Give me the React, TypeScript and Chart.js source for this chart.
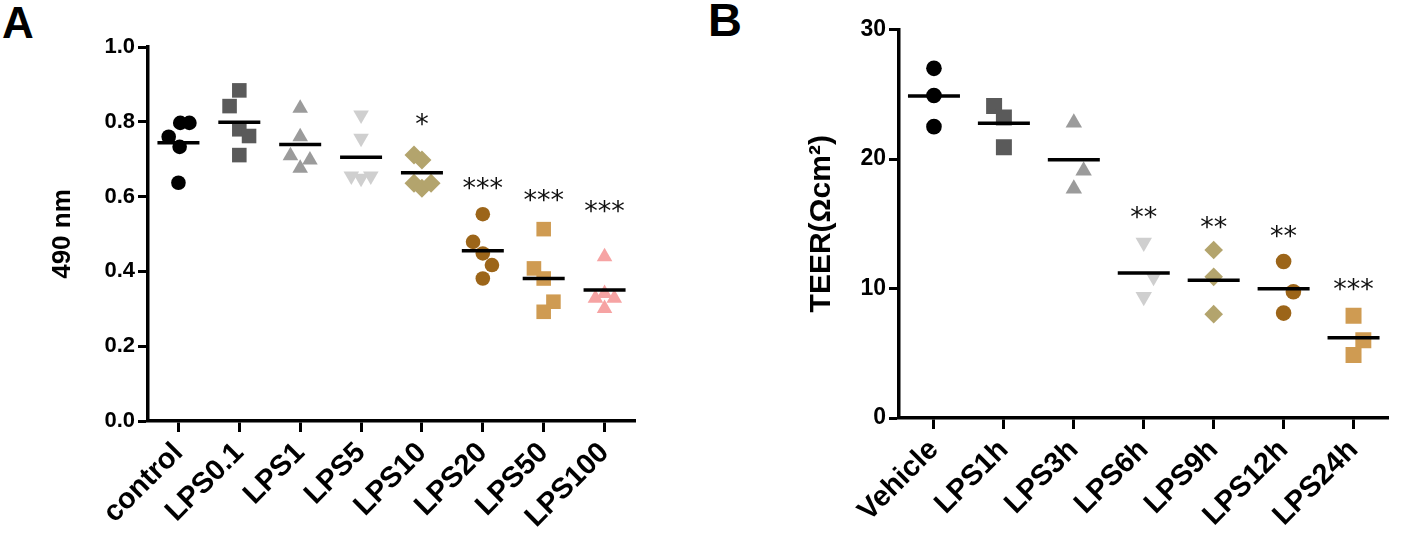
import React, { useEffect, useRef } from "react";
import { Chart, registerables } from "chart.js";
Chart.register(...registerables);

// ---------- Panel A data ----------
const catsA = ["control", "LPS0.1", "LPS1", "LPS5", "LPS10", "LPS20", "LPS50", "LPS100"];
const valsA = [
  [0.760, 0.797, 0.797, 0.733, 0.637],
  [0.884, 0.842, 0.780, 0.762, 0.711],
  [0.836, 0.760, 0.709, 0.698, 0.676],
  [0.818, 0.756, 0.655, 0.649, 0.655],
  [0.711, 0.698, 0.636, 0.622, 0.636],
  [0.553, 0.479, 0.448, 0.417, 0.381],
  [0.513, 0.408, 0.381, 0.319, 0.292],
  [0.439, 0.328, 0.341, 0.328, 0.301],
];
const jitA = [
  [-0.16, 0.03, 0.18, 0.02, 0.0],
  [0.0, -0.16, 0.0, 0.16, 0.0],
  [0.0, 0.0, -0.16, 0.16, 0.0],
  [0.0, 0.0, -0.16, 0.0, 0.16],
  [-0.13, 0.0, -0.13, 0.0, 0.15],
  [0.0, -0.16, 0.0, 0.15, 0.0],
  [0.0, -0.16, 0.0, 0.16, 0.0],
  [0.0, -0.15, 0.0, 0.16, 0.0],
];
const meansA = [0.744, 0.799, 0.739, 0.705, 0.664, 0.455, 0.381, 0.350];
const sigA = ["", "", "", "", "*", "***", "***", "***"];
const sigYA = [null, null, null, null, 0.805, 0.636, 0.604, 0.573];
const yTicksA = [0, 0.2, 0.4, 0.6, 0.8, 1.0];

// ---------- Panel B data ----------
const catsB = ["Vehicle", "LPS1h", "LPS3h", "LPS6h", "LPS9h", "LPS12h", "LPS24h"];
const valsB = [
  [27.0, 24.9, 22.5],
  [24.1, 23.2, 20.9],
  [22.8, 19.1, 17.7],
  [13.56, 10.9, 9.37],
  [12.97, 10.9, 8.02],
  [12.08, 9.75, 8.10],
  [7.9, 6.0, 4.87],
];
const jitB = [
  [0, 0, 0],
  [-0.14, 0, 0],
  [0, 0.14, 0],
  [0, 0.14, 0],
  [0, 0, 0],
  [0, 0.14, 0],
  [0, 0.14, 0],
];
const meansB = [24.87, 22.77, 19.95, 11.2, 10.64, 9.98, 6.19];
const sigB = ["", "", "", "**", "**", "**", "***"];
const sigYB = [null, null, null, 15.9, 15.1, 14.4, 10.3];
const yTicksB = [0, 10, 20, 30];

// ---------- styles ----------
const BLACK = "#000000";
const DGRAY = "#5a5a5a";
const MGRAY = "#9b9b9b";
const LGRAY = "#cfcfcf";
const KHAKI = "#b3a46d";
const BROWN = "#9c6519";
const TAN = "#cf9b52";
const PINK = "#f6a3a3";

const colorsA = [BLACK, DGRAY, MGRAY, LGRAY, KHAKI, BROWN, TAN, PINK];
const shapesA = ["circle", "rect", "triangle", "triangleDown", "rectRot", "circle", "rect", "triangle"];
const colorsB = [BLACK, DGRAY, MGRAY, LGRAY, KHAKI, BROWN, TAN];
const shapesB = ["circle", "rect", "triangle", "triangleDown", "rectRot", "circle", "rect"];

const radiiA: Record<string, number> = { circle: 7.3, rect: 10.3, triangle: 9, triangleDown: 9, rectRot: 9.5 };
const radiiB: Record<string, number> = { circle: 7.8, rect: 11.3, triangle: 9.5, triangleDown: 9.5, rectRot: 9.3 };

const FONT = "'Liberation Sans', Arial, sans-serif";

type PanelCfg = {
  cats: string[];
  vals: number[][];
  jit: number[][];
  means: number[];
  sig: string[];
  sigY: (number | null)[];
  yTicks: number[];
  yMin: number;
  yMax: number;
  yDecimals: number;
  colors: string[];
  shapes: string[];
  radii: Record<string, number>;
  meanHalf: number;
  title: string;
  titleSize: number;
  width: number;
  height: number;
  padLeft: number;
  padTop: number;
  padRight: number;
  yWidth: number;
  xHeight: number;
  yTickFont: number;
};

function buildDatasets(c: PanelCfg) {
  const ds: any[] = c.vals.map((arr, i) => {
    const shape = c.shapes[i];
    return {
      type: "scatter",
      data: arr.map((v, k) => ({ x: i + c.jit[i][k], y: v })),
      pointStyle: shape === "triangleDown" ? "triangle" : shape,
      pointRotation: shape === "triangleDown" ? 180 : 0,
      pointRadius: c.radii[shape],
      pointHoverRadius: c.radii[shape],
      pointBackgroundColor: c.colors[i],
      pointBorderColor: c.colors[i],
      pointBorderWidth: 0,
      showLine: false,
      order: 1,
    };
  });
  ds.push({
    type: "scatter",
    data: c.means.map((m, i) => ({ x: i, y: m })),
    pointStyle: "line",
    pointRadius: c.meanHalf,
    pointHoverRadius: c.meanHalf,
    pointBorderColor: "#000",
    pointBackgroundColor: "#000",
    pointBorderWidth: 3.5,
    showLine: false,
    order: 0,
  });
  return ds;
}

function makeSigPlugin(c: PanelCfg) {
  return {
    id: "sigMarks",
    afterDatasetsDraw(chart: any) {
      const ctx = chart.ctx;
      const xs = chart.scales.x;
      const ys = chart.scales.y;
      ctx.save();
      ctx.font = "27px 'DejaVu Sans', sans-serif";
      ctx.fillStyle = "#111";
      ctx.textAlign = "center";
      ctx.textBaseline = "alphabetic";
      c.sig.forEach((s, i) => {
        const v = c.sigY[i];
        if (!s || v === null) return;
        const m = ctx.measureText(s);
        const x = xs.getPixelForValue(i);
        const y = ys.getPixelForValue(v);
        const yy = y + (m.actualBoundingBoxAscent - m.actualBoundingBoxDescent) / 2;
        ctx.fillText(s, x, yy);
      });
      ctx.restore();
    },
  };
}

function Panel({ c, left }: { c: PanelCfg; left: number }) {
  const ref = useRef<HTMLCanvasElement | null>(null);
  useEffect(() => {
    if (!ref.current) return;
    const chart = new Chart(ref.current, {
      type: "scatter",
      data: { datasets: buildDatasets(c) },
      plugins: [makeSigPlugin(c)],
      options: {
        animation: false,
        responsive: false,
        events: [],
        layout: { padding: { left: c.padLeft, top: c.padTop, right: c.padRight, bottom: 0 } },
        plugins: { legend: { display: false }, tooltip: { enabled: false } },
        scales: {
          x: {
            type: "linear",
            min: -0.5,
            max: c.cats.length - 0.5,
            afterBuildTicks: (scale: any) => {
              scale.ticks = c.cats.map((_, i) => ({ value: i }));
            },
            afterFit: (scale: any) => {
              scale.height = c.xHeight;
              scale.paddingLeft = 0;
              scale.paddingRight = 0;
            },
            border: { display: true, color: "#000", width: 3.5 },
            grid: {
              display: true,
              drawOnChartArea: false,
              drawTicks: true,
              tickLength: 11,
              tickWidth: 3,
              tickColor: "#000",
            },
            ticks: {
              autoSkip: false,
              minRotation: 45,
              maxRotation: 45,
              padding: 4,
              color: "#000",
              font: { family: FONT, size: 29, weight: "bold" },
              callback: (v: any) => c.cats[Math.round(Number(v))] ?? "",
            },
          },
          y: {
            type: "linear",
            min: c.yMin,
            max: c.yMax,
            afterBuildTicks: (scale: any) => {
              scale.ticks = c.yTicks.map((v) => ({ value: v }));
            },
            afterFit: (scale: any) => {
              scale.width = c.yWidth;
            },
            border: { display: true, color: "#000", width: 3.5 },
            grid: {
              display: true,
              drawOnChartArea: false,
              drawTicks: true,
              tickLength: 10,
              tickWidth: 3,
              tickColor: "#000",
            },
            ticks: {
              padding: 3,
              color: "#000",
              font: { family: FONT, size: c.yTickFont, weight: "bold" },
              callback: (v: any) => Number(v).toFixed(c.yDecimals),
            },
            title: {
              display: true,
              text: c.title,
              color: "#000",
              padding: { top: 0, bottom: 0 },
              font: { family: FONT, size: c.titleSize, weight: "bold" },
            },
          },
        },
      } as any,
    });
    return () => chart.destroy();
  }, [c]);
  return (
    <div style={{ position: "absolute", left, top: 0, width: c.width, height: c.height }}>
      <canvas ref={ref} width={c.width} height={c.height} style={{ width: c.width, height: c.height, display: "block" }} />
    </div>
  );
}

const cfgA: PanelCfg = {
  cats: catsA,
  vals: valsA,
  jit: jitA,
  means: meansA,
  sig: sigA,
  sigY: sigYA,
  yTicks: yTicksA,
  yMin: 0,
  yMax: 1.0,
  yDecimals: 1,
  colors: colorsA,
  shapes: shapesA,
  radii: radiiA,
  meanHalf: 21,
  title: "490 nm",
  titleSize: 26,
  width: 700,
  height: 539,
  padLeft: 47,
  padTop: 47,
  padRight: 65,
  yWidth: 101,
  xHeight: 118,
  yTickFont: 22,
};

const cfgB: PanelCfg = {
  cats: catsB,
  vals: valsB,
  jit: jitB,
  means: meansB,
  sig: sigB,
  sigY: sigYB,
  yTicks: yTicksB,
  yMin: 0,
  yMax: 30,
  yDecimals: 0,
  colors: colorsB,
  shapes: shapesB,
  radii: radiiB,
  meanHalf: 26,
  title: "TEER(Ωcm²)",
  titleSize: 30,
  width: 718,
  height: 539,
  padLeft: 104,
  padTop: 24,
  padRight: 6,
  yWidth: 95,
  xHeight: 121,
  yTickFont: 23,
};

export default function App() {
  return (
    <div style={{ position: "fixed", left: 0, top: 0, width: 1418, height: 539, background: "#fff", overflow: "hidden" }}>
      <div
        style={{
          position: "absolute",
          left: 2,
          top: 1,
          fontFamily: FONT,
          fontWeight: "bold",
          fontSize: 44,
          lineHeight: "44px",
          color: "#000",
        }}
      >
        A
      </div>
      <div
        style={{
          position: "absolute",
          left: 708,
          top: -4,
          fontFamily: FONT,
          fontWeight: "bold",
          fontSize: 47,
          lineHeight: "47px",
          color: "#000",
        }}
      >
        B
      </div>
      <Panel c={cfgA} left={0} />
      <Panel c={cfgB} left={700} />
    </div>
  );
}
